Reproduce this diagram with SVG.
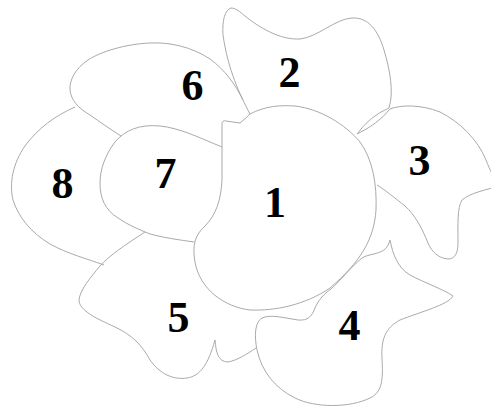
<svg xmlns="http://www.w3.org/2000/svg" width="491" height="410" viewBox="0 0 491 410">
<style>
.b{fill:none;stroke:#aaaaaa;stroke-width:1}
.n{font-family:"Liberation Serif","DejaVu Serif",serif;font-weight:bold;font-size:44px;fill:#000;text-anchor:middle}
</style>
<rect width="491" height="410" fill="#fff"/>
<g id="r8"><path class="b" d="M75,107 C55,116 38,128 25,146 C13,163 9,183 13,200 C18,216 30,232 50,244 C68,254 88,259 104,265"/><text class="n" x="62.5" y="198">8</text></g>
<g id="r6"><path class="b" d="M243,100 C235,84 225,70 210,59 C192,47 170,42 150,43 C125,44 100,52 88,60 C76,68 69,80 70,90 C71,100 78,108 90,115 C100,122 110,129 121,136"/><text class="n" x="192.5" y="100">6</text></g>
<g id="r2"><path class="b" d="M357,134 Q370,116 389,108 C394,92 390,70 384,50 C378,30 368,17 352,18 C335,19 318,37 300,39 C280,40 260,28 245,16 C240,12 236,8 231,8 C225,10 222,20 223,35 C228,70 240,95 250,114"/><text class="n" x="289.5" y="87">2</text></g>
<g id="r3"><path class="b" d="M357,134 Q378,124 390,109 C400,105 420,104 440,112 C460,122 478,140 486,160 C490,170 494,180 500,183 L500,186 C485,190 470,193 462,200 C457,208 458,225 458,243 C458,253 455,259 448,259 C438,258 432,252 428,243 C422,228 415,215 405,206 C395,198 385,190 377,185"/><text class="n" x="419.5" y="175">3</text></g>
<g id="r5"><path class="b" d="M145,232 C125,245 110,255 100,266 C90,278 80,290 79,300 C79,310 95,318 115,327 C132,335 142,345 150,360 C160,374 173,380 187,378 C200,376 208,365 215,340 C216,352 218,362 228,362 C238,360 247,354 256,348"/><text class="n" x="178.5" y="332">5</text></g>
<g id="r7"><path class="b" d="M222,147 C200,138 180,128 160,126 C140,124 125,130 115,142 C105,155 100,170 100,183 C100,198 105,210 118,218 C128,225 140,230 150,234 C165,238 180,240 194,242"/><text class="n" x="165.5" y="188">7</text></g>
<g id="r4"><path class="b" d="M390,240 C393,255 398,268 410,275 C425,283 445,290 453,296 C448,305 420,312 400,320 C385,328 381,340 382,358 C383,378 383,392 370,398 C350,408 315,408 295,398 C275,388 262,372 257,350 C254,335 255,322 262,318 C270,314 285,318 298,320 C308,321 312,316 315,308 C319,299 324,294 331,289 C340,281 352,266 362,258 C372,252 386,256 390,240 Z"/><text class="n" x="349.5" y="340">4</text></g>
<g id="r1"><path class="b" d="M222,124 Q222,120 226,121 L240,123 Q245,119 250,114 C265,106 280,105 295,106 C320,109 345,124 360,142 C373,160 377,185 376,210 C374,240 360,262 330,288 C305,305 275,311 250,310 C225,307 200,290 195,262 C192,245 195,235 205,226 C216,215 221,200 222,180 Z"/><text class="n" x="275" y="217">1</text></g>
</svg>
